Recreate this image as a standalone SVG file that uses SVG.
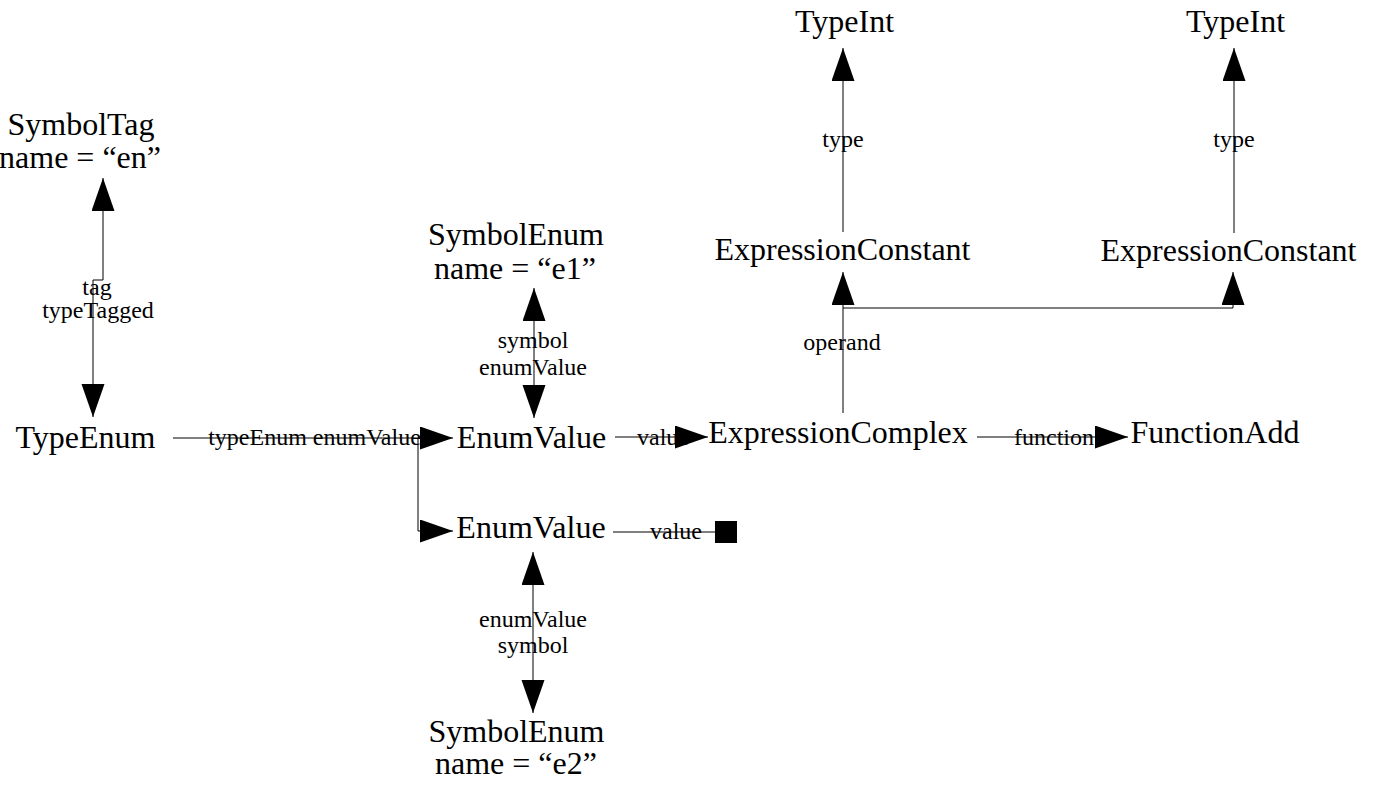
<svg xmlns="http://www.w3.org/2000/svg" width="1378" height="785" viewBox="0 0 1378 785">
<style>
.n{font-family:"Liberation Serif","Times New Roman",serif;font-size:32px;fill:#000;text-anchor:middle}
.l{font-family:"Liberation Serif","Times New Roman",serif;font-size:24px;fill:#000;text-anchor:middle}
.c{fill:none;stroke:#000;stroke-width:1}
</style>
<defs>
<marker id="ah" markerUnits="userSpaceOnUse" markerWidth="34" markerHeight="24" refX="33" refY="11.5" orient="auto-start-reverse" viewBox="0 0 34 24">
<path d="M0,0 L33,11.5 L0,23 z" fill="#000"/>
</marker>
</defs>
<rect width="1378" height="785" fill="#fff"/>
<g id="connectors">
<path class="c" d="M103,178 V280 H93 V417" marker-start="url(#ah)" marker-end="url(#ah)"/>
<text class="l" x="97" y="295">tag</text>
<text class="l" x="98" y="318">typeTagged</text>
<text class="l" x="314.5" y="445">typeEnum enumValue</text>
<path class="c" d="M173,438 H453" marker-end="url(#ah)"/>
<path class="c" d="M418,438 V531 H453" marker-end="url(#ah)"/>
<path class="c" d="M534,288 V418" marker-start="url(#ah)" marker-end="url(#ah)"/>
<text class="l" x="533" y="348">symbol</text>
<text class="l" x="533" y="375">enumValue</text>
<text class="l" x="663" y="445">value</text>
<path class="c" d="M615,437 H708" marker-end="url(#ah)"/>
<path class="c" d="M843,413 V272" marker-end="url(#ah)"/>
<path class="c" d="M843,308 H1233 V272" marker-end="url(#ah)"/>
<text class="l" x="842" y="350">operand</text>
<path class="c" d="M843,232 V48" marker-end="url(#ah)"/>
<text class="l" x="843" y="147">type</text>
<path class="c" d="M1234,233 V48" marker-end="url(#ah)"/>
<text class="l" x="1234" y="147">type</text>
<text class="l" x="1054" y="445">function</text>
<path class="c" d="M977,437 H1128" marker-end="url(#ah)"/>
<text class="l" x="676" y="539">value</text>
<path class="c" d="M613,532 H715"/>
<rect x="715" y="521" width="22" height="22" fill="#000"/>
<path class="c" d="M533,552 V713" marker-start="url(#ah)" marker-end="url(#ah)"/>
<text class="l" x="533" y="627">enumValue</text>
<text class="l" x="533" y="653">symbol</text>
</g>
<g id="symbolTag"><text class="n" x="81" y="135">SymbolTag</text><text class="n" x="80" y="168">name = “en”</text></g>
<g id="typeEnum"><text class="n" x="85.5" y="448">TypeEnum</text></g>
<g id="symbolEnum1"><text class="n" x="516" y="245">SymbolEnum</text><text class="n" x="515" y="279">name = “e1”</text></g>
<g id="enumValue1"><text class="n" x="531.5" y="448">EnumValue</text></g>
<g id="enumValue2"><text class="n" x="531" y="538">EnumValue</text></g>
<g id="symbolEnum2"><text class="n" x="516.5" y="742">SymbolEnum</text><text class="n" x="516" y="774">name = “e2”</text></g>
<g id="expressionComplex"><text class="n" x="838" y="443">ExpressionComplex</text></g>
<g id="functionAdd"><text class="n" x="1215" y="443">FunctionAdd</text></g>
<g id="exprConst1"><text class="n" x="842.5" y="260">ExpressionConstant</text></g>
<g id="exprConst2"><text class="n" x="1228.5" y="261">ExpressionConstant</text></g>
<g id="typeInt1"><text class="n" x="844.5" y="32">TypeInt</text></g>
<g id="typeInt2"><text class="n" x="1235.5" y="32">TypeInt</text></g>
</svg>
